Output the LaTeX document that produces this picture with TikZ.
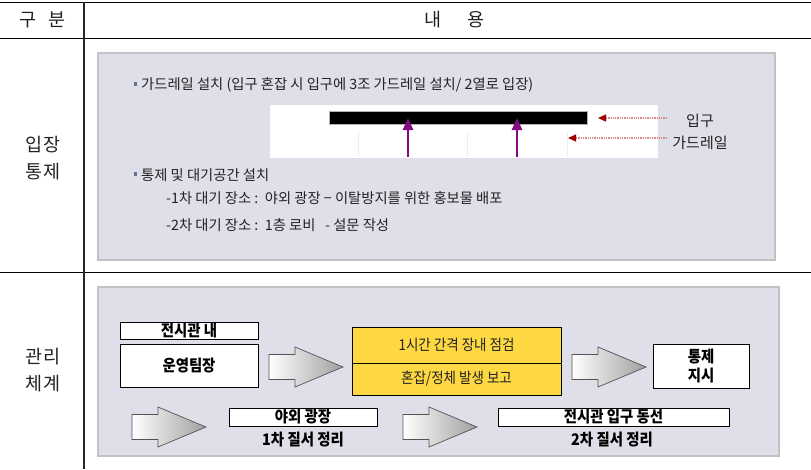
\documentclass[tikz,border=0pt]{standalone}
\usepackage{fontspec}
\setmainfont{Noto Sans CJK KR}
\newfontfamily\krc[FakeStretch=0.9]{Noto Sans CJK KR}
\usetikzlibrary{arrows.meta}
\definecolor{panel}{HTML}{DFDFE9}
\definecolor{panelborder}{HTML}{C2C2C6}
\definecolor{rail}{HTML}{820A82}
\definecolor{redhead}{HTML}{A00000}
\definecolor{reddot}{HTML}{D88A8A}
\definecolor{yel}{HTML}{FDD843}
\definecolor{txtc}{HTML}{222222}
\definecolor{bullc}{HTML}{6C6C8C}
\tikzset{
  blockarrow/.pic={
    \shade[left color=white, right color=gray!75, draw=gray!65!black, line width=0.7]
      (0,-12.5) -- (26,-12.5) -- (26,-20) -- (74,0) -- (26,20) -- (26,12.5) -- (0,12.5) -- cycle;
  },
  hdr/.style={inner sep=0pt, text=txtc, font=\fontsize{18.5}{27}\selectfont},
  txt/.style={inner sep=0pt, anchor=west, text=txtc, font=\fontsize{14.3}{16}\selectfont},
  bull/.style={inner sep=0pt, minimum width=3, minimum height=4, fill=bullc},
  panelbox/.style={fill=panel, draw=panelborder, line width=1.2},
  wbox/.style={draw=black, fill=white, line width=0.8, inner sep=0pt, text=black,
    font=\krc\fontsize{16}{18}\selectfont\bfseries},
  ybox/.style={draw=black, fill=yel, line width=0.8, inner sep=0pt, text=txtc,
    font=\krc\fontsize{15}{16}\selectfont},
  lbl/.style={inner sep=0pt, text=black, font=\krc\fontsize{16}{18}\selectfont\bfseries},
  railarrow/.style={rail, line width=2.6, -{Triangle[length=12,width=10]}},
  redarrow/.style={reddot, densely dotted, line width=1.3, -{Triangle[length=8,width=7,color=redhead,fill=redhead]}},
}
\begin{document}
\begin{tikzpicture}[x=1pt,y=-1pt]
\useasboundingbox (0,0) rectangle (811,469);
% table lines
\draw[black, line width=0.9] (0,2) -- (811,2);
\draw[black, line width=0.9] (0,38) -- (811,38);
\draw[black, line width=0.9] (0,272) -- (811,272);
\draw[gray!30!black, line width=1.2] (84,2) -- (84,469);
% header
\node[hdr] (h1) at (28,20) {구};
\node[hdr] (h2) at (57,20) {분};
\node[hdr] (h3) at (433,20) {내};
\node[hdr] (h4) at (476,20) {용};
% left labels
\node[hdr, align=center] (l1) at (43,158) {입장\\통제};
\node[hdr, align=center] (l2) at (43,370) {관리\\체계};
% panels
\draw[panelbox] (98,53) rectangle (775,260);
\draw[panelbox] (98,287) rectangle (779,456);
% panel 1 texts
\node[bull] (b1) at (135,84) {};
\node[txt] (t1) at (141,85) {가드레일 설치 (입구 혼잡 시 입구에 3조 가드레일 설치/ 2열로 입장)};
\node[bull] (b2) at (135,174) {};
\node[txt] (t2) at (141,175) {통제 및 대기공간 설치};
\node[txt] (t3) at (166,198) {-1차 대기 장소 :\ \ 야외 광장 − 이탈방지를 위한 홍보물 배포};
\node[txt] (t4) at (166,225) {-2차 대기 장소 :\ \ 1층 로비\ \ \ - 설문 작성};
% guardrail diagram
\fill[white] (270,105) rectangle (658,158);
\draw[gray!15, line width=0.8] (358,132) -- (358,157) (467,132) -- (467,157) (567,132) -- (567,157);
\node[fill=black, draw=gray!60, line width=0.5, inner sep=0pt, minimum width=258, minimum height=13] (bar) at (458,117.5) {};
\coordinate (r1a) at (408,157);
\coordinate (r1b) at (408,118);
\coordinate (r2a) at (517,157);
\coordinate (r2b) at (517,118);
\draw[railarrow] (r1a) -- (r1b);
\draw[railarrow] (r2a) -- (r2b);
\node[inner sep=0pt, text=txtc, font=\fontsize{15}{16}\selectfont] (ent) at (700,121) {입구};
\node[inner sep=0pt, text=txtc, font=\fontsize{15}{16}\selectfont] (gr) at (700,143) {가드레일};
\coordinate (e1) at (667,118);
\coordinate (e1t) at (598,118);
\coordinate (e2) at (667,138);
\coordinate (e2t) at (568,138);
\draw[redarrow] (e1) -- (e1t);
\draw[redarrow] (e2) -- (e2t);
% panel 2
\node[wbox, minimum width=138, minimum height=17] (n1) at (189,330.5) {전시관 내};
\node[wbox, minimum width=138, minimum height=43] (n2) at (189,365.5) {운영팀장};
\node[ybox, minimum width=209, minimum height=36] (y1) at (456.5,345) {1시간 간격 장내 점검};
\node[ybox, minimum width=209, minimum height=32] (y2) at (456.5,379) {혼잡/정체 발생 보고};
\node[wbox, minimum width=96, minimum height=44, align=center, font=\krc\fontsize{16}{18.5}\selectfont\bfseries] (n3) at (701,366) {통제\\지시};
\node[wbox, minimum width=148, minimum height=18] (n4) at (303,417) {야외 광장};
\node[lbl] (c4) at (303,440) {1차 질서 정리};
\node[wbox, minimum width=231, minimum height=18] (n5) at (613.5,417) {전시관 입구 동선};
\node[lbl] (c5) at (612,440) {2차 질서 정리};
\pic at (269,367) {blockarrow};
\pic at (572,367) {blockarrow};
\pic at (132,427) {blockarrow};
\pic at (403,427) {blockarrow};
\end{tikzpicture}
\end{document}
